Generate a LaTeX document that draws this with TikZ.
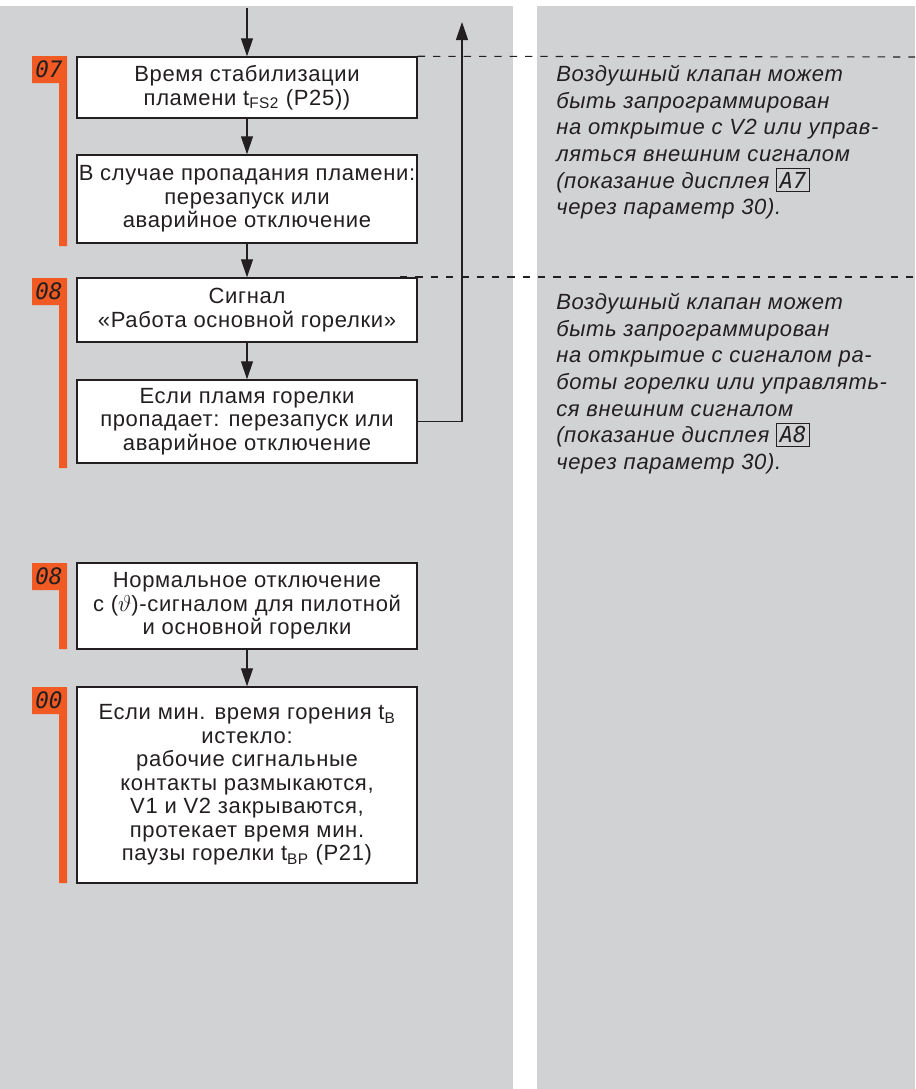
\documentclass[tikz,border=0pt]{standalone}
\usepackage{fontspec}
\setmainfont{Liberation Sans}
\newfontfamily\boxfont[LetterSpace=3]{Liberation Sans}
\newfontfamily\dispfont{DejaVu Sans Mono}
\usetikzlibrary{arrows.meta}
\definecolor{panelgray}{HTML}{D1D2D4}
\definecolor{stepor}{HTML}{F15A22}
\definecolor{ink}{HTML}{231F20}
\setlength{\fboxsep}{2pt}
\setlength{\fboxrule}{0.8pt}
\newcommand\dispbox[1]{\fbox{\upshape\dispfont\itshape #1}}
\begin{document}
\begin{tikzpicture}[x=0.75pt,y=-0.75pt,
  box/.style={draw=ink, fill=white, line width=1.1pt, minimum width=255pt, inner sep=0pt,
    align=center, font=\boxfont\fontsize{16.5}{17.6}\selectfont, text=ink},
  flow/.style={draw=ink, line width=0.9pt, -{Triangle[length=13.5pt,width=9pt]}},
  guide/.style={draw=ink, line width=0.8pt, dash pattern=on 5.5pt off 6pt},
  note/.style={align=left, anchor=north west, inner sep=0pt,
    font=\boxfont\fontsize{16.5}{20}\selectfont\itshape, text=ink},
  steplbl/.style={font=\dispfont\itshape\fontsize{17}{17}\selectfont, text=ink, inner sep=0pt}]
\useasboundingbox (0,0) rectangle (915,1089);
\fill[panelgray] (0,6) rectangle (513,1089);
\fill[panelgray] (537,6) rectangle (915,1089);

% step markers
\foreach \lab/\t/\b/\n in {07/56/246/s1, 08/278/468/s2, 08/563/649/s3, 00/687/883/s4} {
  \fill[stepor] (32,\t) -- (67,\t) -- (67,\b) -- (59,\b) -- (59,\t+27) -- (32,\t+27) -- cycle;
  \node[steplbl] (\n) at (49,\t+13) {\lab};
}

% boxes
\node[box, minimum height=45.75pt] (b1) at (247,87.5) {Время стабилизации\\пламени t\textsubscript{FS2} (P25))};
\node[box, minimum height=66pt] (b2) at (247,199) {В случае пропадания пламени:\\перезапуск или\\аварийное отключение};
\node[box, minimum height=48pt] (b3) at (247,310) {Сигнал\\«Работа основной горелки»};
\node[box, minimum height=62.25pt] (b4) at (247,421.5) {Если пламя горелки\\пропадает: перезапуск или\\аварийное отключение};
\node[box, minimum height=64.5pt] (b5) at (247,606) {Нормальное отключение\\с ($\vartheta$)-сигналом для пилотной\\и основной горелки};
\node[box, minimum height=147pt] (b6) at (247,785) {Если мин. время горения t\textsubscript{B}\\истекло:\\рабочие сигнальные\\контакты размыкаются,\\V1 и V2 закрываются,\\протекает время мин.\\паузы горелки t\textsubscript{BP} (P21)};

% guides
\coordinate (d1) at (915,57);
\coordinate (d2s) at (400,277);
\coordinate (d2) at (915,277);
\draw[guide] (b1.north east) -- (d1);
\draw[guide] (d2s) -- (d2);

% connectors
\coordinate (top) at (247,8);
\coordinate (ret) at (462,22);
\draw[flow] (top) -- (b1);
\draw[flow] (b1) -- (b2);
\draw[flow] (b2) -- (b3);
\draw[flow] (b3) -- (b4);
\draw[flow] (b4.east) -| (ret);
\draw[flow] (b5) -- (b6);

% notes
\node[note] (n1) at (556,65) {Воздушный клапан может\\быть запрограммирован\\на открытие с V2 или управ-\\ляться внешним сигналом\\(показание дисплея \dispbox{A7}\\через параметр 30).};
\node[note] (n2) at (556,293) {Воздушный клапан может\\быть запрограммирован\\на открытие с сигналом ра-\\боты горелки или управлять-\\ся внешним сигналом\\(показание дисплея \dispbox{A8}\\через параметр 30).};
\end{tikzpicture}
\end{document}
